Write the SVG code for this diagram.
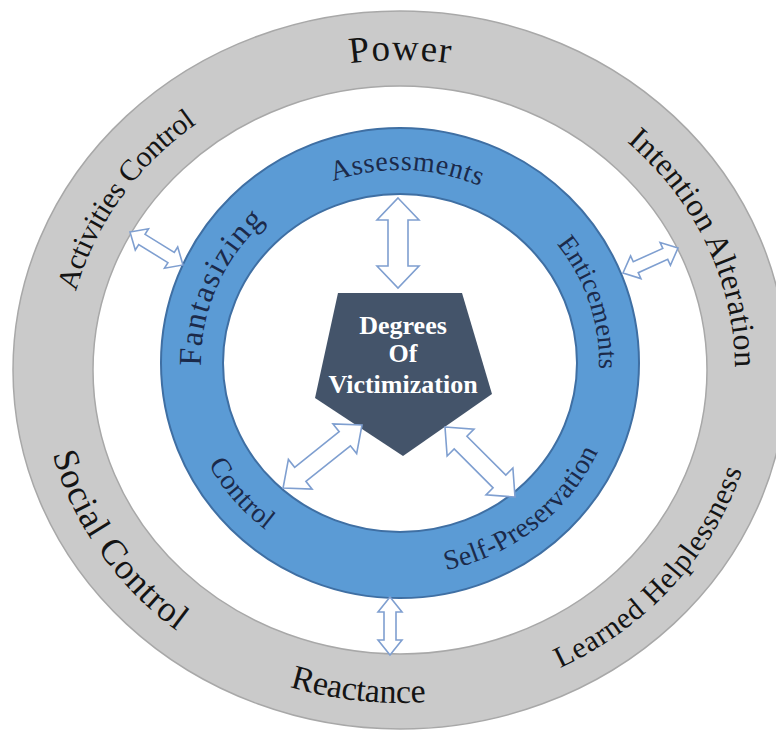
<svg xmlns="http://www.w3.org/2000/svg" width="776" height="734" viewBox="0 0 776 734">
<style>
.outer{fill:#cacaca;stroke:#a8a8a8;stroke-width:1.5;fill-rule:evenodd}
.inner{fill:#5b9bd5;stroke:#3f6fa3;stroke-width:2;fill-rule:evenodd}
.pent{fill:#44546a}
.arr{fill:#ffffff;stroke:#7f9fd0;stroke-width:1.6;stroke-linejoin:miter}
.gt{font-family:"Liberation Serif","Times New Roman",serif;fill:#141414}
.bt{font-family:"Liberation Serif","Times New Roman",serif;fill:#1b2a4a}
.ct{font-family:"Liberation Serif","Times New Roman",serif;font-weight:bold;font-size:26px;fill:#ffffff;text-anchor:middle}
</style>
<defs>
<path id="pAct" d="M67.5,407.8 A335,310 0 0 1 302.1,73.5"/>
<path id="pPow" d="M232.5,101.5 A335,310 0 0 1 567.5,101.5"/>
<path id="pInt" d="M549.5,92.6 A335,310 0 0 1 721.2,458"/>
<path id="pLea" d="M462.3,697.9 A359,333 0 0 0 759,370"/>
<path id="pRea" d="M184,635.9 A359,333 0 0 0 540.3,676.5"/>
<path id="pSoc" d="M44.1,326.5 A359,333 0 0 0 292,687.6"/>
<path id="pFan" d="M209.7,419.4 A199,193 0 0 1 309.7,191"/>
<path id="pAss" d="M277.5,210.9 A199,193 0 0 1 533.2,219.6"/>
<path id="pEnt" d="M505.5,199.3 A199,193 0 0 1 584.5,435.3"/>
<path id="pSel" d="M377.2,573.8 A218,212 0 0 0 616.8,385.2"/>
<path id="pCon" d="M182.8,381.5 A218,212 0 0 0 343.6,567.8"/>
</defs>
<rect width="776" height="734" fill="#ffffff"/>

<g id="outer-ring">
<path class="outer" d="M13,370 A387,359 0 1 1 787,370 A387,359 0 1 1 13,370 Z M93,370 A307,284 0 1 0 707,370 A307,284 0 1 0 93,370 Z"/>
<text class="gt" font-size="30"><textPath href="#pAct" startOffset="50%" text-anchor="middle" textLength="211" lengthAdjust="spacing">Activities Control</textPath></text>
<text class="gt" font-size="37"><textPath href="#pPow" startOffset="50%" text-anchor="middle" textLength="100" lengthAdjust="spacing">Power</textPath></text>
<text class="gt" font-size="32"><textPath href="#pInt" startOffset="50%" text-anchor="middle" textLength="258" lengthAdjust="spacing">Intention Alteration</textPath></text>
<text class="gt" font-size="30"><textPath href="#pLea" startOffset="50%" text-anchor="middle" textLength="276" lengthAdjust="spacing">Learned Helplessness</textPath></text>
<text class="gt" font-size="34"><textPath href="#pRea" startOffset="50%" text-anchor="middle" textLength="138" lengthAdjust="spacing">Reactance</textPath></text>
<text class="gt" font-size="36"><textPath href="#pSoc" startOffset="50%" text-anchor="middle" textLength="220" lengthAdjust="spacing">Social Control</textPath></text>
</g>

<g id="inner-ring">
<path class="inner" d="M161,363 A239,235 0 1 1 639,363 A239,235 0 1 1 161,363 Z M223,363 A177,169 0 1 0 577,363 A177,169 0 1 0 223,363 Z"/>
<text class="bt" font-size="32"><textPath href="#pFan" startOffset="50%" text-anchor="middle" textLength="163" lengthAdjust="spacing">Fantasizing</textPath></text>
<text class="bt" font-size="28"><textPath href="#pAss" startOffset="50%" text-anchor="middle" textLength="150" lengthAdjust="spacing">Assessments</textPath></text>
<text class="bt" font-size="27"><textPath href="#pEnt" startOffset="50%" text-anchor="middle" textLength="135" lengthAdjust="spacing">Enticements</textPath></text>
<text class="bt" font-size="28"><textPath href="#pSel" startOffset="50%" text-anchor="middle" textLength="200" lengthAdjust="spacing">Self-Preservation</textPath></text>
<text class="bt" font-size="28"><textPath href="#pCon" startOffset="50%" text-anchor="middle" textLength="88" lengthAdjust="spacing">Control</textPath></text>
</g>

<g id="center-node">
<polygon class="pent" points="338,293 462,293 492,394 403,456 315,398"/>
<text class="ct" x="403" y="334">Degrees</text>
<text class="ct" x="403" y="362">Of</text>
<text class="ct" x="403" y="393">Victimization</text>
</g>

<g id="connectors">
<polygon class="arr" transform="translate(398,198) rotate(90)" points="0,0 22,-21 22,-10 68,-10 68,-21 90,0 68,21 68,10 22,10 22,21"/>
<polygon class="arr" transform="translate(390,597) rotate(90)" points="0,0 15,-12 15,-6 43,-6 43,-12 58,0 43,12 43,6 15,6 15,12"/>
<polygon class="arr" transform="translate(130,232) rotate(31.9)" points="0,0 14,-12.5 14,-6 48.4,-6 48.4,-12.5 62.4,0 48.4,12.5 48.4,6 14,6 14,12.5"/>
<polygon class="arr" transform="translate(623,273) rotate(-24.4)" points="0,0 14,-12.5 14,-6 46.4,-6 46.4,-12.5 60.4,0 46.4,12.5 46.4,6 14,6 14,12.5"/>
<polygon class="arr" transform="translate(362,425) rotate(141.4)" points="0,0 22,-19 22,-9 79,-9 79,-19 101,0 79,19 79,9 22,9 22,19"/>
<polygon class="arr" transform="translate(445,427) rotate(45)" points="0,0 22,-19 22,-9 77,-9 77,-19 99,0 77,19 77,9 22,9 22,19"/>
</g>
</svg>
